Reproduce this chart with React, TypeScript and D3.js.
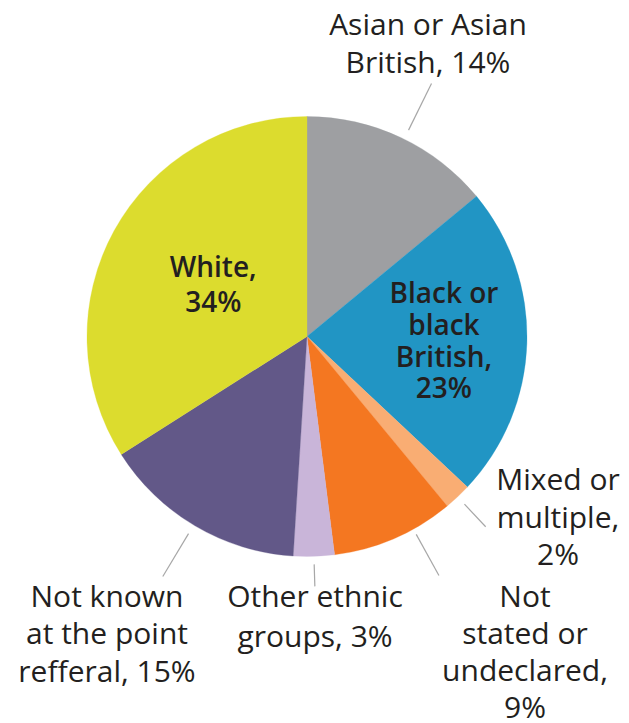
import React from "react";
import * as d3 from "d3";

const categories = [
  "Asian or Asian British",
  "Black or black British",
  "Mixed or multiple",
  "Not stated or undeclared",
  "Other ethnic groups",
  "Not known at the point refferal",
  "White",
];
const values = [14, 23, 2, 9, 3, 15, 34];
const colors = ["#9e9fa2", "#2195c4", "#f9ad73", "#f47721", "#c9b5d9", "#625888", "#dcdc2e"];
const labelLines = [
  ["Asian or Asian", "British, {v}%"],
  ["Black or", "black", "British,", "{v}%"],
  ["Mixed or", "multiple,", "{v}%"],
  ["Not", "stated or", "undeclared,", "{v}%"],
  ["Other ethnic", "groups, {v}%"],
  ["Not known", "at the point", "refferal, {v}%"],
  ["White,", "{v}%"],
];

// layout (not data)
const W = 629, H = 723;
const CX = 307, CY = 336.5, R = 220;
type Lay = {
  inside: boolean;
  x?: number; y?: number; // first baseline for outside
  r?: number; // centroid radius for inside
  lh: number;
  leader?: [number, number, number]; // angle offset (deg), r1, r2
};
const layout: Lay[] = [
  { inside: false, x: 428, y: 35, lh: 37.5, leader: [1, 230, 282] },
  { inside: true, r: 137, lh: 31.7 },
  { inside: false, x: 558, y: 490, lh: 37.5, leader: [0, 230, 261] },
  { inside: false, x: 525, y: 606.7, lh: 37, leader: [-5.5, 226, 273] },
  { inside: false, x: 315, y: 606.7, lh: 40, leader: [0, 228, 250] },
  { inside: false, x: 107, y: 606.7, lh: 37.5, leader: [0.4, 230, 280] },
  { inside: true, r: 107, lh: 35 },
];

export default function App() {
  const data = categories.map((c, i) => ({ c, v: values[i], i }));
  const pie = d3.pie<any>().value((d) => d.v).sort(null);
  const arcs = pie(data);
  const arc = d3.arc<any>().innerRadius(0).outerRadius(R);
  const font = "'Open Sans', 'Noto Sans', sans-serif";

  return (
    <svg
      width={W}
      height={H}
      style={{ position: "absolute", left: 0, top: 0, background: "#fff" }}
    >
      <g transform={`translate(${CX},${CY})`}>
        {arcs.map((a, i) => (
          <path key={i} d={arc(a) as string} fill={colors[i]} stroke={colors[i]} strokeWidth={0.3} />
        ))}
      </g>
      {arcs.map((a, i) => {
        const L = layout[i];
        const lines = labelLines[i].map((s) => s.replace("{v}", String(values[i])));
        const mid = (a.startAngle + a.endAngle) / 2;
        if (L.inside) {
          const cx = CX + L.r! * Math.sin(mid);
          const cy = CY - L.r! * Math.cos(mid);
          const n = lines.length;
          const y0 = cy - ((n - 1) * L.lh) / 2 + 10;
          return (
            <text key={i} fontFamily={font} fontSize={28} fontWeight={600} fill="#231f20" textAnchor="middle">
              {lines.map((s, k) => (
                <tspan key={k} x={cx} y={y0 + k * L.lh}>{s}</tspan>
              ))}
            </text>
          );
        }
        const [off, r1, r2] = L.leader!;
        const ang = mid + (off * Math.PI) / 180;
        return (
          <g key={i}>
            <line
              x1={CX + r1 * Math.sin(ang)}
              y1={CY - r1 * Math.cos(ang)}
              x2={CX + r2 * Math.sin(ang)}
              y2={CY - r2 * Math.cos(ang)}
              stroke="#a7a7a7"
              strokeWidth={1.2}
            />
            <text fontFamily={font} fontSize={30} fill="#231f20" textAnchor="middle">
              {lines.map((s, k) => (
                <tspan key={k} x={L.x} y={L.y! + k * L.lh}>{s}</tspan>
              ))}
            </text>
          </g>
        );
      })}
    </svg>
  );
}
